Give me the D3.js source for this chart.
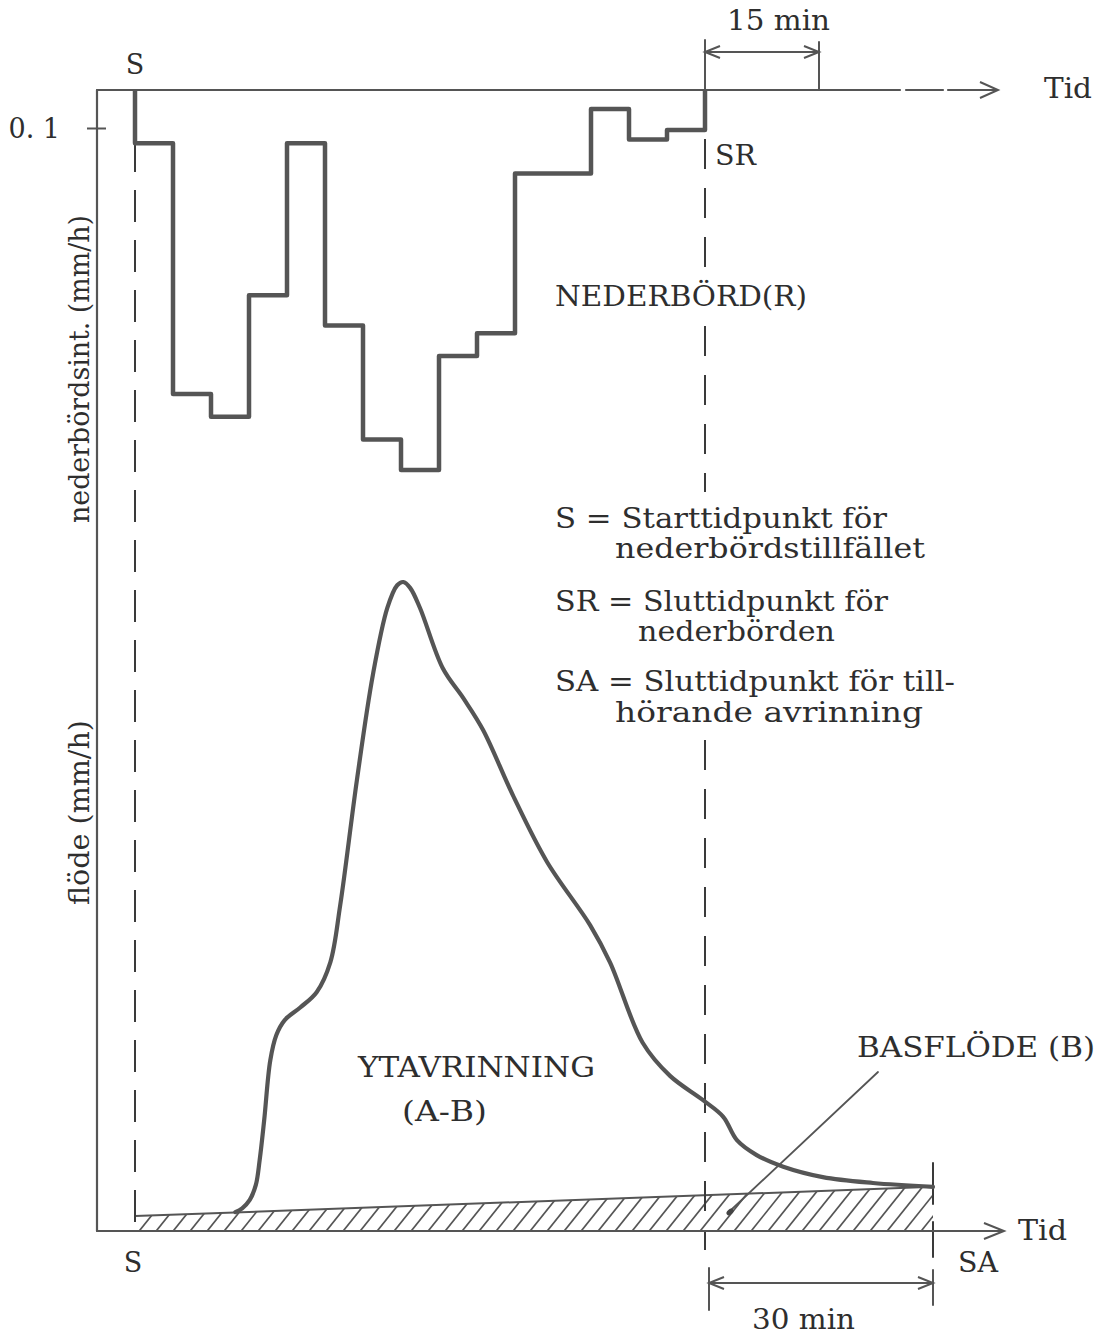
<!DOCTYPE html>
<html>
<head>
<meta charset="utf-8">
<script src="https://cdn.jsdelivr.net/npm/d3@7"></script>
<style>
  body { margin: 0; background: #fff; }
  text { font-family: "DejaVu Serif", "Liberation Serif", serif; fill: #2e2e2e; }
</style>
</head>
<body>
<svg id="chart" width="1106" height="1336"></svg>
<script>
// Rain intensity for each 5-minute block from S to SR (mm/h)
const rainStepMin = 5;
const rainIntensity = [0.14, 0.80, 0.86, 0.54, 0.14, 0.62, 0.92, 1.00, 0.70, 0.64, 0.22, 0.22, 0.05, 0.13, 0.105];
const rainTicks = [0.1];

// Total runoff hydrograph: minutes after S, flow in % of peak
const flowTime  = [13.2, 14.1, 15.1, 15.9, 16.4, 17.0, 17.8, 18.6, 19.7, 21.7, 23.9, 25.7, 27.0, 29.2, 31.3, 33.2, 34.5, 35.3, 36.2, 37.5, 40.5, 43.2, 45.8, 49.7, 54.2, 59.9, 62.5, 66.8, 70.4, 74.7, 77.4, 79.2, 81.8, 85.3, 90.5, 97.1, 105];
const flowValue = [2.9, 3.5, 4.8, 7.1, 10.9, 17.1, 26.3, 30.2, 32.5, 34.4, 36.8, 41.4, 50.2, 69.5, 85.7, 96.0, 99.5, 100, 99.1, 96.0, 86.7, 82.1, 77.2, 67.2, 56.9, 47.1, 41.4, 29.0, 23.9, 20.2, 17.6, 14.0, 11.7, 9.9, 8.3, 7.4, 6.8];

// Base flow, linear from S to SA
const baseTime  = [0, 105];
const baseValue = [2.3, 6.8];

// Event times (minutes after S)
const tS = 0, tSR = 75, tSA = 105;

const legendLines = [
  "S = Starttidpunkt för", "nederbördstillfället",
  "SR = Sluttidpunkt för", "nederbörden",
  "SA = Sluttidpunkt för till-", "hörande avrinning"
];

const ink = "#555";
const svg = d3.select("#chart");

const x = d3.scaleLinear().domain([0, 105]).range([135, 933]);
const yRain = d3.scaleLinear().domain([0, 0.1]).range([90, 128]);
const yFlow = d3.scaleLinear().domain([0, 100]).range([1231, 582]);

const axisX = 97, topY = yRain(0), botY = yFlow(0);

// helpers
function line(x1, y1, x2, y2, w = 2, col = ink, dash = null) {
  const l = svg.append("line").attr("x1", x1).attr("y1", y1).attr("x2", x2).attr("y2", y2)
    .attr("stroke", col).attr("stroke-width", w).attr("stroke-linecap", "round");
  if (dash) l.attr("stroke-dasharray", dash).attr("stroke-linecap", "butt");
  return l;
}
function openHead(tx, ty, dir, len = 17, half = 7) {
  // open chevron arrowhead, dir = +1 pointing right, -1 pointing left
  svg.append("path")
    .attr("d", `M${tx - dir * len},${ty - half} L${tx},${ty} L${tx - dir * len},${ty + half}`)
    .attr("fill", "none").attr("stroke", ink).attr("stroke-width", 2).attr("stroke-linejoin", "miter");
}
function label(t, px, py, opts = {}) {
  const el = svg.append("text").attr("x", px).attr("y", py).text(t)
    .style("font-size", (opts.size || 27) + "px");
  if (opts.anchor) el.attr("text-anchor", opts.anchor);
  if (opts.len) el.attr("textLength", opts.len).attr("lengthAdjust", "spacingAndGlyphs");
  return el;
}

// ---- base flow hatched area ----
const baseArea = d3.area()
  .x((d, i) => x(baseTime[i])).y0(botY).y1((d, i) => yFlow(baseValue[i]));
svg.append("clipPath").attr("id", "baseClip")
  .append("path").attr("d", baseArea(baseTime));
const hatch = svg.append("g").attr("clip-path", "url(#baseClip)");
for (let hx = x(0) - 50; hx < x(tSA) + 10; hx += 17) {
  hatch.append("line").attr("x1", hx).attr("y1", botY + 4).attr("x2", hx + 44).attr("y2", botY - 51)
    .attr("stroke", ink).attr("stroke-width", 1.7);
}
svg.append("path")
  .attr("d", d3.line().x((d, i) => x(baseTime[i])).y((d, i) => yFlow(baseValue[i]))(baseTime))
  .attr("fill", "none").attr("stroke", ink).attr("stroke-width", 2);

// ---- dashed event lines ----
line(x(tS), topY, x(tS), botY, 2, "#3a3a3a", "32 18");
// SR line is interrupted where the text labels sit
line(x(tSR), topY, x(tSR), 268, 2, "#3a3a3a", "30 19");
line(x(tSR), 326, x(tSR), 492, 2, "#3a3a3a", "30 19");
line(x(tSR), 740, x(tSR), 1250, 2, "#3a3a3a", "30 19");
// SA marker
line(x(tSA), 1163, x(tSA), 1204, 2, "#3a3a3a");
line(x(tSA), 1222, x(tSA), 1257, 2, "#3a3a3a");

// ---- axes frame ----
line(axisX, topY, axisX, botY, 2.2);
line(axisX, topY, 900, topY, 2.2);
line(906, topY, 943, topY, 2.2);
line(948, topY, 997, topY, 2.2);
openHead(998, topY, 1, 18, 8);
line(axisX, botY, 1003, botY, 2.2);
openHead(1004, botY, 1, 20, 8);

// rain intensity tick on the left axis
const rainAxis = svg.append("g").attr("transform", `translate(${axisX},0)`)
  .call(d3.axisLeft(yRain).tickValues(rainTicks).tickSize(10)
        .tickFormat(d => d3.format(".1f")(d).replace(".", ". ")));
rainAxis.select(".domain").remove();
rainAxis.selectAll(".tick line").attr("x1", 9).attr("x2", -10).attr("stroke", ink).attr("stroke-width", 2);
rainAxis.selectAll(".tick text").attr("x", -37).attr("dy", "0.36em")
  .style("font-size", "27px").style("font-family", "DejaVu Serif, serif").attr("fill", "#2e2e2e");

// ---- hyetograph (step line hanging from the top axis) ----
const rainPts = [[0, 0]];
rainIntensity.forEach((v, i) => {
  rainPts.push([i * rainStepMin, v]);
  rainPts.push([(i + 1) * rainStepMin, v]);
});
rainPts.push([rainIntensity.length * rainStepMin, 0]);
svg.append("path")
  .attr("d", d3.line().x(d => x(d[0])).y(d => yRain(d[1]))(rainPts))
  .attr("fill", "none").attr("stroke", ink).attr("stroke-width", 4.5)
  .attr("stroke-linejoin", "round");

// ---- runoff hydrograph ----
svg.append("path")
  .attr("d", d3.line().x((d, i) => x(flowTime[i])).y((d, i) => yFlow(flowValue[i]))
    .curve(d3.curveCatmullRom.alpha(0.5))(flowTime))
  .attr("fill", "none").attr("stroke", ink).attr("stroke-width", 4.2)
  .attr("stroke-linecap", "round").attr("stroke-linejoin", "round");

// ---- 15 min dimension ----
line(x(tSR), 40, x(tSR), topY, 2);
line(x(90), 42, x(90), topY, 2);
line(x(tSR) + 2, 52, x(90) - 2, 52, 2);
openHead(x(tSR), 52, -1, 15, 6);
openHead(x(90), 52, 1, 15, 6);
label("15 min", 727, 30, { len: 103 });

// ---- 30 min dimension ----
line(x(tSR) + 4, 1268, x(tSR) + 4, 1310, 2);
line(x(tSA), 1270, x(tSA), 1305, 2);
line(x(tSR) + 6, 1283, x(tSA) - 2, 1283, 2);
openHead(x(tSR) + 4, 1283, -1, 15, 6);
openHead(x(tSA), 1283, 1, 15, 6);
label("30 min", 752, 1329, { len: 103 });

// ---- base flow leader ----
line(878, 1072, 731, 1210, 1.8);
svg.append("ellipse").attr("cx", 730).attr("cy", 1212).attr("rx", 4).attr("ry", 2.6)
  .attr("transform", "rotate(-40,730,1212)").attr("fill", "#444");

// ---- labels ----
label("S", x(tS), 74, { anchor: "middle" });
label("S", x(tS) - 2, 1272, { anchor: "middle" });
label("SR", 715, 165, { len: 41 });
label("SA", 958, 1272, { len: 40 });
label("Tid", 1044, 98, { len: 48 });
label("Tid", 1018, 1240, { len: 49 });
label("NEDERBÖRD(R)", 555, 306, { len: 252 });
label("YTAVRINNING", 358, 1077, { len: 237 });
label("(A-B)", 402, 1121, { len: 85 });
label("BASFLÖDE (B)", 857, 1057, { len: 238 });

const legendX = [555, 615, 555, 638, 555, 615];
const legendY = [528, 558, 611, 641, 691, 722];
const legendLen = [332, 310, 333, 197, 400, 308];
legendLines.forEach((t, i) => label(t, legendX[i], legendY[i], { len: legendLen[i] }));

// vertical axis titles
svg.append("text").attr("transform", "translate(89,523) rotate(-90)")
  .attr("textLength", 308).attr("lengthAdjust", "spacingAndGlyphs")
  .style("font-size", "27px").text("nederbördsint. (mm/h)");
svg.append("text").attr("transform", "translate(89,905) rotate(-90)")
  .attr("textLength", 185).attr("lengthAdjust", "spacingAndGlyphs")
  .style("font-size", "27px").text("flöde (mm/h)");
</script>
</body>
</html>
